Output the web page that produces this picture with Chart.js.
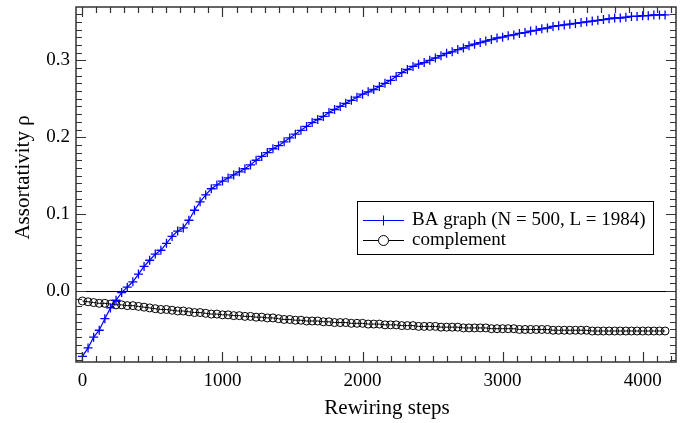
<!DOCTYPE html>
<html>
<head>
<meta charset="utf-8">
<script src="https://cdn.jsdelivr.net/npm/chart.js@4/dist/chart.umd.min.js"></script>
<style>
  html, body { margin: 0; padding: 0; background: #fff; }
  #wrap { width: 689px; height: 423px; }
</style>
</head>
<body>
<div id="wrap"><canvas id="c" width="689" height="423"></canvas></div>
<script>
// Pasos de recableado (eje x)
const STEPS = [
  0, 40, 80, 120, 160, 200, 240, 280, 320, 360,
  400, 440, 480, 520, 560, 600, 640, 680, 720, 760,
  800, 840, 880, 920, 960, 1000, 1040, 1080, 1120, 1160,
  1200, 1240, 1280, 1320, 1360, 1400, 1440, 1480, 1520, 1560,
  1600, 1640, 1680, 1720, 1760, 1800, 1840, 1880, 1920, 1960,
  2000, 2040, 2080, 2120, 2160, 2200, 2240, 2280, 2320, 2360,
  2400, 2440, 2480, 2520, 2560, 2600, 2640, 2680, 2720, 2760,
  2800, 2840, 2880, 2920, 2960, 3000, 3040, 3080, 3120, 3160,
  3200, 3240, 3280, 3320, 3360, 3400, 3440, 3480, 3520, 3560,
  3600, 3640, 3680, 3720, 3760, 3800, 3840, 3880, 3920, 3960,
  4000, 4040, 4080, 4120, 4160
];
// BA graph (N = 500, L = 1984)
const BA_RHO = [
  -0.085, -0.074, -0.060, -0.051, -0.036, -0.022, -0.012, -0.002, 0.005, 0.012,
  0.022, 0.032, 0.040, 0.048, 0.053, 0.062, 0.071, 0.078, 0.082, 0.092,
  0.105, 0.116, 0.125, 0.133, 0.138, 0.143, 0.147, 0.151, 0.155, 0.159,
  0.164, 0.170, 0.175, 0.180, 0.185, 0.189, 0.194, 0.199, 0.204, 0.209,
  0.214, 0.219, 0.223, 0.227, 0.232, 0.236, 0.240, 0.244, 0.248, 0.252,
  0.256, 0.259, 0.262, 0.266, 0.270, 0.274, 0.279, 0.284, 0.288, 0.292,
  0.295, 0.297, 0.300, 0.303, 0.306, 0.309, 0.311, 0.314, 0.316, 0.319,
  0.321, 0.323, 0.325, 0.327, 0.329, 0.330, 0.332, 0.333, 0.335, 0.336,
  0.338, 0.339, 0.341, 0.342, 0.344, 0.345, 0.346, 0.347, 0.348, 0.349,
  0.350, 0.351, 0.352, 0.353, 0.354, 0.355, 0.355, 0.356, 0.357, 0.357,
  0.358, 0.358, 0.359, 0.359, 0.359
];
// complement
const COMP_RHO = [
  -0.013, -0.014, -0.015, -0.016, -0.016, -0.017, -0.018, -0.018, -0.019, -0.019,
  -0.020, -0.021, -0.022, -0.023, -0.024, -0.024, -0.025, -0.026, -0.026, -0.027,
  -0.028, -0.028, -0.029, -0.030, -0.030, -0.031, -0.031, -0.032, -0.032, -0.033,
  -0.033, -0.034, -0.034, -0.035, -0.035, -0.036, -0.037, -0.037, -0.038, -0.038,
  -0.039, -0.039, -0.039, -0.040, -0.040, -0.041, -0.041, -0.041, -0.042, -0.042,
  -0.042, -0.043, -0.043, -0.043, -0.044, -0.044, -0.044, -0.045, -0.045, -0.045,
  -0.046, -0.046, -0.046, -0.046, -0.047, -0.047, -0.047, -0.047, -0.048, -0.048,
  -0.048, -0.048, -0.048, -0.049, -0.049, -0.049, -0.049, -0.049, -0.050, -0.050,
  -0.050, -0.050, -0.050, -0.050, -0.051, -0.051, -0.051, -0.051, -0.051, -0.051,
  -0.051, -0.052, -0.052, -0.052, -0.052, -0.052, -0.052, -0.052, -0.052, -0.052,
  -0.052, -0.052, -0.052, -0.052, -0.052
];
const SERIES_LABELS = ["BA graph (N = 500, L = 1984)", "complement"];
const X_TICKS = [0, 1000, 2000, 3000, 4000];
const Y_TICKS = [0.0, 0.1, 0.2, 0.3];
const X_TITLE = "Rewiring steps";
const Y_TITLE = "Assortativity ρ";

const FONT = "'Liberation Serif', 'Times New Roman', serif";
const AXIS = "#333";

Chart.defaults.font.family = FONT;
Chart.defaults.color = "#000";

const pts = (ys) => STEPS.map((x, i) => ({ x, y: ys[i] }));

// Marcos, ticks interiores, línea y=0, títulos y leyenda.
const decor = {
  id: "decor",
  beforeDatasetsDraw(chart) {
    const { ctx, chartArea: a, scales: { y } } = chart;
    const y0 = Math.round(y.getPixelForValue(0)) + 0.5;
    ctx.save();
    ctx.strokeStyle = "#000"; ctx.lineWidth = 1;
    ctx.beginPath(); ctx.moveTo(a.left, y0); ctx.lineTo(a.right, y0); ctx.stroke();
    ctx.restore();
  },
  afterDraw(chart) {
    const { ctx, chartArea: a, scales: { x, y } } = chart;
    ctx.save();
    ctx.strokeStyle = AXIS; ctx.lineWidth = 1.2;
    // ticks x
    for (let v = 0; v <= x.max; v += 100) {
      const px = Math.round(x.getPixelForValue(v)) + 0.5;
      if (px < a.left || px > a.right) continue;
      const L = v % 1000 === 0 ? 10 : 6;
      ctx.beginPath();
      ctx.moveTo(px, a.bottom); ctx.lineTo(px, a.bottom - L);
      ctx.moveTo(px, a.top); ctx.lineTo(px, a.top + L);
      ctx.stroke();
    }
    // ticks y
    for (let k = -9; k <= 36; k++) {
      const v = k / 100;
      const py = Math.round(y.getPixelForValue(v)) + 0.5;
      if (py < a.top || py > a.bottom) continue;
      const L = k % 10 === 0 ? 10 : 6;
      ctx.beginPath();
      ctx.moveTo(a.left, py); ctx.lineTo(a.left + L, py);
      ctx.moveTo(a.right, py); ctx.lineTo(a.right - L, py);
      ctx.stroke();
    }
    ctx.lineWidth = 1.5;
    ctx.strokeRect(a.left, a.top, a.right - a.left, a.bottom - a.top);

    // títulos de ejes
    ctx.fillStyle = "#000";
    ctx.font = "21px " + FONT;
    ctx.textAlign = "center"; ctx.textBaseline = "middle";
    ctx.fillText(X_TITLE, (a.left + a.right) / 2 + 11, a.bottom + 46);
    ctx.translate(23, (a.top + a.bottom) / 2 - 7);
    ctx.rotate(-Math.PI / 2);
    ctx.fillText(Y_TITLE, 0, 0);
    ctx.restore();

    // leyenda
    ctx.save();
    const bx = 357.5, by = 201.5, bw = 296, bh = 53;
    ctx.fillStyle = "#fff"; ctx.fillRect(bx, by, bw, bh);
    ctx.strokeStyle = "#000"; ctx.lineWidth = 1; ctx.strokeRect(bx, by, bw, bh);
    ctx.font = "19px " + FONT; ctx.textAlign = "left"; ctx.textBaseline = "middle";
    chart.data.datasets.forEach((ds, i) => {
      const ry = 220.5 + i * 20;
      ctx.strokeStyle = ds.borderColor; ctx.lineWidth = 1;
      ctx.beginPath(); ctx.moveTo(363, ry); ctx.lineTo(404, ry); ctx.stroke();
      const cx = 383.5;
      if (ds.pointStyle === "cross") {
        ctx.beginPath();
        ctx.moveTo(cx - 5, ry); ctx.lineTo(cx + 5, ry);
        ctx.moveTo(cx, ry - 5); ctx.lineTo(cx, ry + 5);
        ctx.stroke();
      } else {
        ctx.fillStyle = "#fff";
        ctx.beginPath(); ctx.arc(cx, ry, 5, 0, Math.PI * 2); ctx.fill(); ctx.stroke();
      }
      ctx.fillStyle = "#000";
      ctx.fillText(ds.label, 412, ry);
    });
    ctx.restore();
  },
};

new Chart(document.getElementById("c"), {
  type: "line",
  data: {
    datasets: [
      {
        label: SERIES_LABELS[0], data: pts(BA_RHO),
        borderColor: "#0000ff", borderWidth: 1.2, pointStyle: "cross",
        pointRadius: 4.5, pointBorderWidth: 1.3, pointBorderColor: "#0000ff",
        tension: 0, fill: false,
      },
      {
        label: SERIES_LABELS[1], data: pts(COMP_RHO),
        borderColor: "#000", borderWidth: 1, pointStyle: "circle",
        pointRadius: 4, pointBorderWidth: 1, pointBorderColor: "#000",
        pointBackgroundColor: "rgba(255,255,255,0)", tension: 0, fill: false,
      },
    ],
  },
  options: {
    responsive: false, devicePixelRatio: 1, animation: false,
    layout: { padding: { left: 0, right: 13, top: 7, bottom: 0 } },
    plugins: { legend: { display: false }, tooltip: { enabled: false } },
    scales: {
      x: {
        type: "linear", min: -46, max: 4238,
        grid: { display: false, drawTicks: false }, border: { display: false },
        afterBuildTicks: (s) => { s.ticks = X_TICKS.map((v) => ({ value: v })); },
        afterFit: (s) => { s.height = 61; s.paddingLeft = 0; s.paddingRight = 0; },
        ticks: { font: { size: 19 }, color: "#000", padding: 8, maxRotation: 0, callback: (v) => String(v) },
      },
      y: {
        type: "linear", min: -0.0923, max: 0.3693,
        grid: { display: false, drawTicks: false }, border: { display: false },
        afterBuildTicks: (s) => { s.ticks = Y_TICKS.map((v) => ({ value: v })); },
        afterFit: (s) => { s.width = 76; s.paddingTop = 0; s.paddingBottom = 0; },
        ticks: { font: { size: 19 }, color: "#000", padding: 6, callback: (v) => Number(v).toFixed(1) },
      },
    },
  },
  plugins: [decor],
});
</script>
</body>
</html>
